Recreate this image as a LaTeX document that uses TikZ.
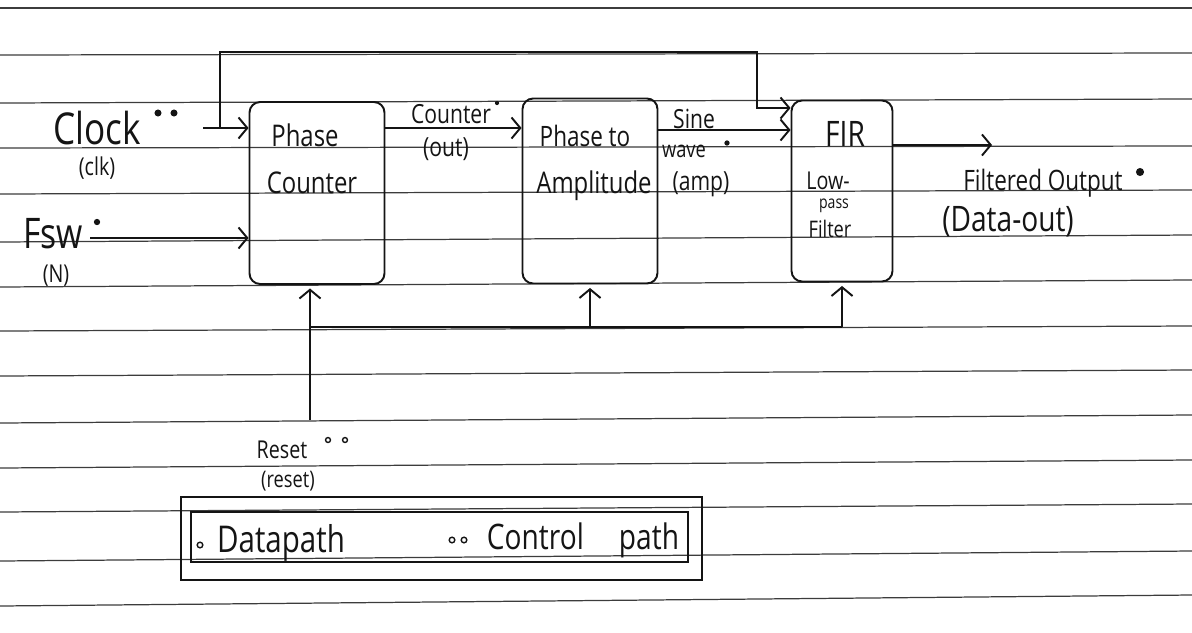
\documentclass[tikz,border=0pt]{standalone}
\usepackage{fontspec}
\setmainfont{Open Sans}[FakeStretch=0.8]
\usepackage{tikz}
\usetikzlibrary{positioning,arrows.meta}
\definecolor{ink}{HTML}{141414}
\definecolor{ruling}{HTML}{3C3C3C}
\newcommand{\penfs}[1]{\fontsize{#1}{#1}\selectfont}

\begin{document}
\begin{tikzpicture}[x=0.02cm,y=-0.02cm,
    pen/.style={ink,line width=1.1pt},
    arr/.style={pen,-{Straight Barb[length=5pt,width=12pt]}},
    blk/.style={pen,draw,rounded corners=6pt,inner sep=0pt},
    rule/.style={ruling,line width=0.7pt},
    lbl/.style={ink,inner sep=0pt}]
    \useasboundingbox (0,0) rectangle (1192,632);
    % ruled paper
    \foreach \l/\r in {8/8,55/53,103/99,148/146,194/190,242/235,287/280,331/326,376/370,423/415,468/460,512/504,561/551,606/595}
        \draw[rule] (0,\l) -- (1192,\r);

    % blocks
    \node[blk,minimum width=2.7cm,minimum height=3.64cm] (pc) at (317,193) {};
    \node[blk,minimum width=2.7cm,minimum height=3.7cm] (pa) at (590,191) {};
    \node[blk,minimum width=2.02cm,minimum height=3.62cm] (fir) at (842,191) {};
    \node[lbl,font=\penfs{17}] (pct) at (305,135) {Phase};
    \node[lbl,font=\penfs{17}] (pcb) at (312,183) {Counter};
    \node[lbl,font=\penfs{16}] (pat) at (585,136) {Phase to};
    \node[lbl,font=\penfs{17}] (pab) at (594,186) {Amplitude};
    \node[lbl,font=\penfs{20}] (firt) at (845,134) {FIR};
    \node[lbl,font=\penfs{14}] (lowt) at (828,181) {Low-};
    \node[lbl,font=\penfs{10}] (passt) at (834,206) {pass};
    \node[lbl,font=\penfs{13}] (filt) at (830,229) {Filter};

    % inputs
    \coordinate (clkin) at (203,128);
    \coordinate (tap) at (220,128);
    \coordinate (clktop) at (757,52);
    \coordinate (firclk) at (760,108);
    \coordinate (fswin) at (90,238);
    \draw[arr] (clkin) -- (clkin -| pc.west);
    \draw[arr] (tap) |- (clktop) |- (firclk -| fir.west);
    \draw[arr] (fswin) -- (fswin -| pc.west);
    \node[lbl,font=\penfs{25}] (clk) at (97,128) {Clock};
    \node[lbl,font=\penfs{14}] (clkn) at (97,168) {(clk)};
    \node[lbl,font=\penfs{24}] (fsw) at (53,234) {Fsw};
    \node[lbl,font=\penfs{14}] (fswn) at (56,276) {(N)};
    \fill[ink] (158,113) circle (2pt) (174,113) circle (2pt);
    \fill[ink] (97,222) circle (1.8pt);

    % data path
    \coordinate (cnty) at (0,128);
    \coordinate (siney) at (0,130);
    \coordinate (dout) at (992,145);
    \draw[arr] (pc.east |- cnty) -- (pa.west |- cnty);
    \draw[arr] (pa.east |- siney) -- (fir.west |- siney);
    \draw[arr] (fir.east |- dout) -- (dout);
    \node[lbl,font=\penfs{15}] (cnt) at (451,114) {Counter};
    \node[lbl,font=\penfs{15}] (cnto) at (446,149) {(out)};
    \node[lbl,font=\penfs{15}] (sine) at (694,119) {Sine};
    \node[lbl,font=\penfs{13}] (wave) at (684,151) {wave};
    \node[lbl,font=\penfs{15}] (amp) at (701,184) {(amp)};
    \node[lbl,font=\penfs{16}] (fo) at (1043,183) {Filtered Output};
    \node[lbl,font=\penfs{20}] (dataout) at (1008,222) {(Data-out)};
    \fill[ink] (497,103) circle (1.2pt);
    \fill[ink] (727,143) circle (1.5pt);
    \fill[ink] (1140,172) circle (2.3pt);

    % reset
    \coordinate (rst) at (310,420);
    \coordinate (bus) at (310,327);
    \draw[arr,shorten >=2pt] (rst) -- (rst |- pc.south);
    \draw[pen] (bus) -- (fir.south |- bus);
    \draw[arr,shorten >=2pt] (pa.south |- bus) -- (pa.south);
    \draw[arr,shorten >=2pt] (fir.south |- bus) -- (fir.south);
    \node[lbl,font=\penfs{14}] (rstl) at (282,450) {Reset};
    \node[lbl,font=\penfs{13}] (rstn) at (288,481) {(reset)};
    \draw[ink,line width=0.8pt] (328,440) circle (1.4pt) (345,440) circle (1.4pt);

    % legend
    \draw[pen] (181,497) rectangle (702,580);
    \draw[pen] (191,512) rectangle (688,562);
    \draw[ink,line width=0.8pt] (200,545) circle (1.6pt);
    \node[lbl,font=\penfs{21}] (dp) at (281,543) {Datapath};
    \draw[ink,line width=0.8pt] (452,540) circle (1.6pt) (464,540) circle (1.6pt);
    \node[lbl,font=\penfs{20}] (cp) at (583,540) {Control\quad path};
\end{tikzpicture}
\end{document}
